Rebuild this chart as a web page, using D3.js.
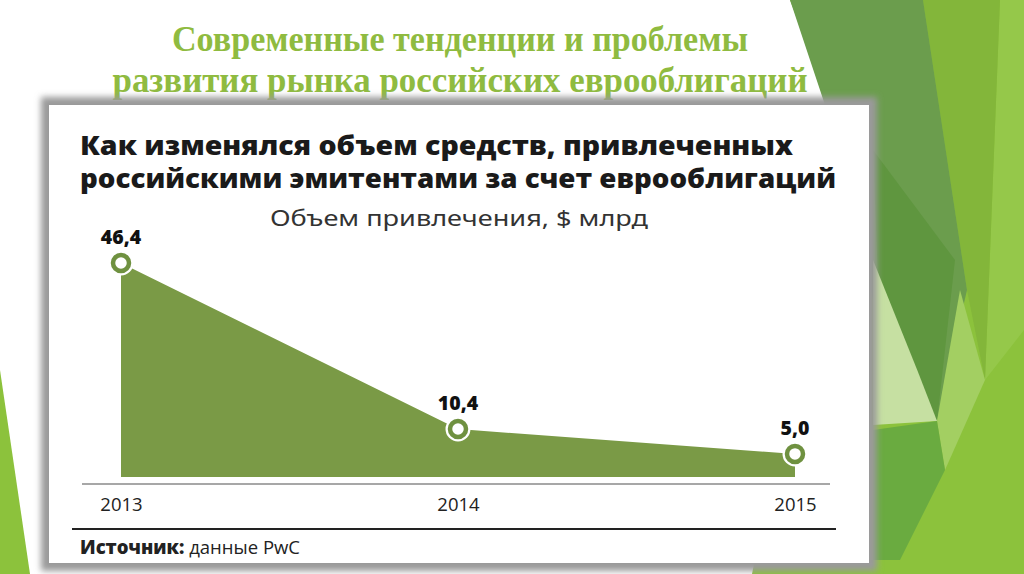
<!DOCTYPE html>
<html><head><meta charset="utf-8">
<script src="https://cdn.jsdelivr.net/npm/d3@7/dist/d3.min.js"></script>
<style>html,body{margin:0;padding:0;background:#fff;overflow:hidden}svg{display:block}</style>
</head><body>
<svg id="c" width="1024" height="574"></svg>
<script>
const slideTitle = ["Современные тенденции и проблемы", "развития рынка российских еврооблигаций"];
const chartTitle = ["Как изменялся объем средств, привлеченных", "российскими эмитентами за счет еврооблигаций"];
const subtitle = "Объем привлечения, $ млрд";
const years = ["2013", "2014", "2015"];
const values = [46.4, 10.4, 5.0];
const valueLabels = ["46,4", "10,4", "5,0"];
const sourceBold = "Источник:";
const sourceText = " данные PwC";

const svg = d3.select("#c");
const defs = svg.append("defs");
const f = defs.append("filter").attr("id","blur").attr("x","-5%").attr("y","-5%").attr("width","110%").attr("height","110%");
f.append("feGaussianBlur").attr("stdDeviation", 3);

// decorative background shapes
const deco = svg.append("g");
const shapes = [
  {p:[[790,0],[1024,0],[1024,574],[752,574],[840,130]], c:"#8cc23c"},
  {p:[[1000,0],[1024,0],[1024,330],[985,380]], c:"#95c84a"},
  {p:[[923,0],[1000,0],[985,380],[967,290]], c:"#83b63a"},
  {p:[[790,0],[923,0],[967,290],[937,421],[873,300],[830,120]], c:"#6b9d4d"},
  {p:[[873,150],[955,260],[937,421],[880,330]], c:"#5f963f"},
  {p:[[873,260],[918,372],[937,421],[873,425]], c:"#c6e0a2"},
  {p:[[960,290],[985,380],[945,470],[937,421]], c:"#a3cf62"},
  {p:[[873,430],[937,421],[945,470],[900,560],[873,560]], c:"#6aab40"},
  {p:[[0,370],[0,574],[30,574]], c:"#8cc23c"}
];
deco.selectAll("polygon").data(shapes).join("polygon")
  .attr("points", d => d.p.map(q => q.join(",")).join(" "))
  .attr("fill", d => d.c);

// slide title
svg.append("g").selectAll("text").data(slideTitle).join("text")
  .attr("x", 460).attr("y", (d,i) => 51 + i*41)
  .attr("text-anchor","middle")
  .attr("font-family","'Liberation Serif', 'DejaVu Serif', serif")
  .attr("font-weight","bold").attr("font-size", 36)
  .attr("fill","#8fbb40")
  .attr("textLength", (d,i) => i===0 ? 576 : 695)
  .attr("lengthAdjust","spacingAndGlyphs")
  .text(d => d);

// chart box with shadow
svg.append("rect").attr("x",41).attr("y",97).attr("width",836).attr("height",474)
  .attr("fill","#9a9a9a").attr("filter","url(#blur)");
svg.append("rect").attr("x",49).attr("y",105).attr("width",820).attr("height",458).attr("fill","#fff");

// chart heading
svg.append("g").selectAll("text").data(chartTitle).join("text")
  .attr("x", 80).attr("y", (d,i) => 155 + i*33)
  .attr("font-family","'Open Sans', 'Noto Sans', sans-serif")
  .attr("font-weight", 800).attr("font-size", 26.5)
  .attr("fill","#1a1a1a")
  .attr("textLength", (d,i) => i===0 ? 713 : 756)
  .attr("lengthAdjust","spacingAndGlyphs")
  .text(d => d);

svg.append("text").attr("x", 459).attr("y", 226)
  .attr("text-anchor","middle")
  .attr("font-family","'Noto Sans', 'Open Sans', sans-serif")
  .attr("font-size", 21).attr("fill","#333")
  .attr("textLength", 378).attr("lengthAdjust","spacingAndGlyphs")
  .text(subtitle);

// scales
const x = d3.scalePoint().domain(years).range([121, 795]);
const y = d3.scaleLinear().domain([0, 50]).range([477, 246.4]);
const data = years.map((yr,i) => ({yr, v: values[i], lab: valueLabels[i]}));

svg.append("path").datum(data)
  .attr("d", d3.area().x(d => x(d.yr)).y0(y(0)).y1(d => y(d.v)))
  .attr("fill","#7a9a46");

// axis baseline (grey) and years
svg.append("line").attr("x1",82).attr("x2",830).attr("y1",484).attr("y2",484)
  .attr("stroke","#8a8a8a").attr("stroke-width",1.5);

const ax = svg.append("g").attr("transform","translate(0,489)")
  .call(d3.axisBottom(x).tickSize(0).tickPadding(6));
ax.select(".domain").remove();
ax.selectAll("text").attr("font-family","'Open Sans', 'Noto Sans', sans-serif")
  .attr("font-size",18.5).attr("fill","#222").attr("dy","0.85em");

svg.append("line").attr("x1",72).attr("x2",836).attr("y1",529).attr("y2",529)
  .attr("stroke","#222").attr("stroke-width",1.8);

// markers
const pts = svg.append("g").selectAll("g").data(data).join("g")
  .attr("transform", d => `translate(${x(d.yr)},${y(d.v)})`);
pts.append("circle").attr("r", 12.5).attr("fill","#fff");
pts.append("circle").attr("r", 8).attr("fill","#fff").attr("stroke","#6f9140").attr("stroke-width",4.5);

svg.append("g").selectAll("text").data(data).join("text")
  .attr("x", d => x(d.yr)).attr("y", d => y(d.v) - 19)
  .attr("text-anchor","middle")
  .attr("font-family","'Open Sans', 'Noto Sans', sans-serif")
  .attr("font-weight", 800).attr("font-size", 19.5).attr("fill","#111")
  .text(d => d.lab);

// source
const src = svg.append("text").attr("x", 80).attr("y", 554)
  .attr("font-family","'Open Sans', 'Noto Sans', sans-serif")
  .attr("font-size", 18.5).attr("fill","#222");
src.append("tspan").attr("font-weight",800).text(sourceBold);
src.append("tspan").text(sourceText);
</script>
</body></html>
